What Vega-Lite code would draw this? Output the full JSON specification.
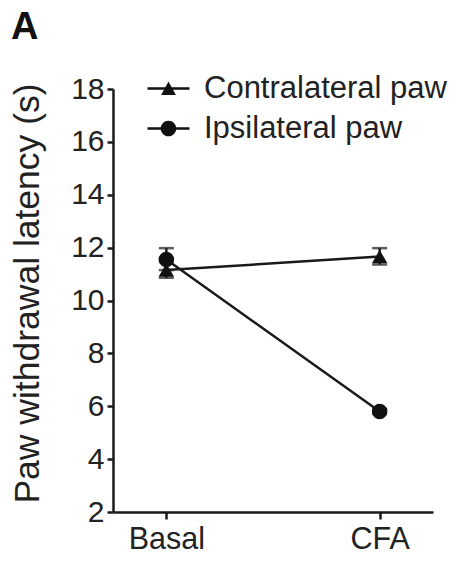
{
  "$schema": "https://vega.github.io/schema/vega-lite/v6.json",
  "width": 320,
  "height": 423,
  "autosize": {"type": "none"},
  "padding": {"left": 113, "top": 89, "right": 27, "bottom": 50},
  "background": "white",
  "title": {"text": "A", "anchor": "start", "frame": "group", "fontSize": 38, "fontWeight": "bold", "font": "Liberation Sans", "color": "#111", "dx": -102, "offset": 26},
  "config": {
    "view": {"stroke": null},
    "font": "Liberation Sans",
    "axis": {"grid": false, "domainColor": "#1a1a1a", "domainWidth": 2.5, "tickColor": "#1a1a1a", "tickWidth": 2.5, "tickSize": 6, "labelColor": "#222", "titleColor": "#222", "labelFont": "Liberation Sans", "titleFont": "Liberation Sans", "titleFontWeight": "normal"}
  },
  "data": {"values": [
    {"time": "Basal", "series": "Contralateral paw", "mean": 11.15, "lo": 10.86, "hi": 11.45},
    {"time": "CFA", "series": "Contralateral paw", "mean": 11.66, "lo": 11.36, "hi": 11.98},
    {"time": "Basal", "series": "Ipsilateral paw", "mean": 11.55, "lo": 11.15, "hi": 11.98},
    {"time": "CFA", "series": "Ipsilateral paw", "mean": 5.8, "lo": 5.7, "hi": 5.9}
  ]},
  "encoding": {
    "x": {"field": "time", "type": "ordinal", "scale": {"type": "point", "padding": 0.25}, "sort": ["Basal", "CFA"],
      "axis": {"title": null, "labelAngle": 0, "labelFontSize": 30.5, "labelPadding": 5, "tickSize": 7}}
  },
  "resolve": {"scale": {"shape": "independent"}, "legend": {"shape": "independent"}},
  "layer": [
    {
      "mark": {"type": "line", "color": "#1a1a1a", "strokeWidth": 2.5},
      "encoding": {
        "y": {"field": "mean", "type": "quantitative", "scale": {"domain": [2, 18], "nice": false, "zero": false},
          "axis": {"title": "Paw withdrawal latency (s)", "values": [2, 4, 6, 8, 10, 12, 14, 16, 18], "labelFontSize": 30, "labelPadding": 3, "tickSize": 6, "titleFontSize": 35.5, "titleX": -75, "titleY": 204, "titleAngle": -90, "titleBaseline": "alphabetic", "titleAlign": "center"}},
        "detail": {"field": "series"}
      }
    },
    {
      "mark": {"type": "rule", "color": "#1a1a1a", "strokeWidth": 2.5},
      "encoding": {"y": {"field": "lo", "type": "quantitative"}, "y2": {"field": "hi"}}
    },
    {
      "mark": {"type": "tick", "color": "#1a1a1a", "thickness": 2.5, "size": 15, "orient": "horizontal"},
      "encoding": {"y": {"field": "lo", "type": "quantitative"}}
    },
    {
      "mark": {"type": "tick", "color": "#1a1a1a", "thickness": 2.5, "size": 15, "orient": "horizontal"},
      "encoding": {"y": {"field": "hi", "type": "quantitative"}}
    },
    {
      "mark": {"type": "point", "filled": true, "opacity": 1, "color": "#111", "size": 240},
      "encoding": {
        "y": {"field": "mean", "type": "quantitative"},
        "shape": {"field": "series", "type": "nominal",
          "scale": {"domain": ["Contralateral paw", "Ipsilateral paw"], "range": ["triangle-up", "circle"]},
          "legend": null}
      }
    },
    {
      "transform": [{"filter": "datum.mean < 0"}],
      "mark": {"type": "point", "filled": true, "opacity": 1, "color": "#111"},
      "encoding": {
        "y": {"field": "mean", "type": "quantitative"},
        "shape": {"field": "series", "type": "nominal",
          "scale": {"domain": ["Contralateral paw", "Ipsilateral paw"], "range": ["M-2.1,-0.125H2.1V0.125H-2.1ZM-0.74,0.64L0,-0.7L0.74,0.64Z", "M-2.1,-0.125H2.1V0.125H-2.1ZM-0.78,0A0.78,0.78,0,1,1,0.78,0A0.78,0.78,0,1,1,-0.78,0Z"]},
          "legend": {"title": null, "orient": "none", "legendX": 40, "legendY": -16, "padding": 0, "symbolSize": 400, "rowPadding": 8, "labelOffset": 20, "labelFontSize": 31, "labelLimit": 0, "labelColor": "#222", "labelFont": "Liberation Sans", "symbolFillColor": "#111", "symbolOpacity": 1}
        }
      }
    }
  ]
}
